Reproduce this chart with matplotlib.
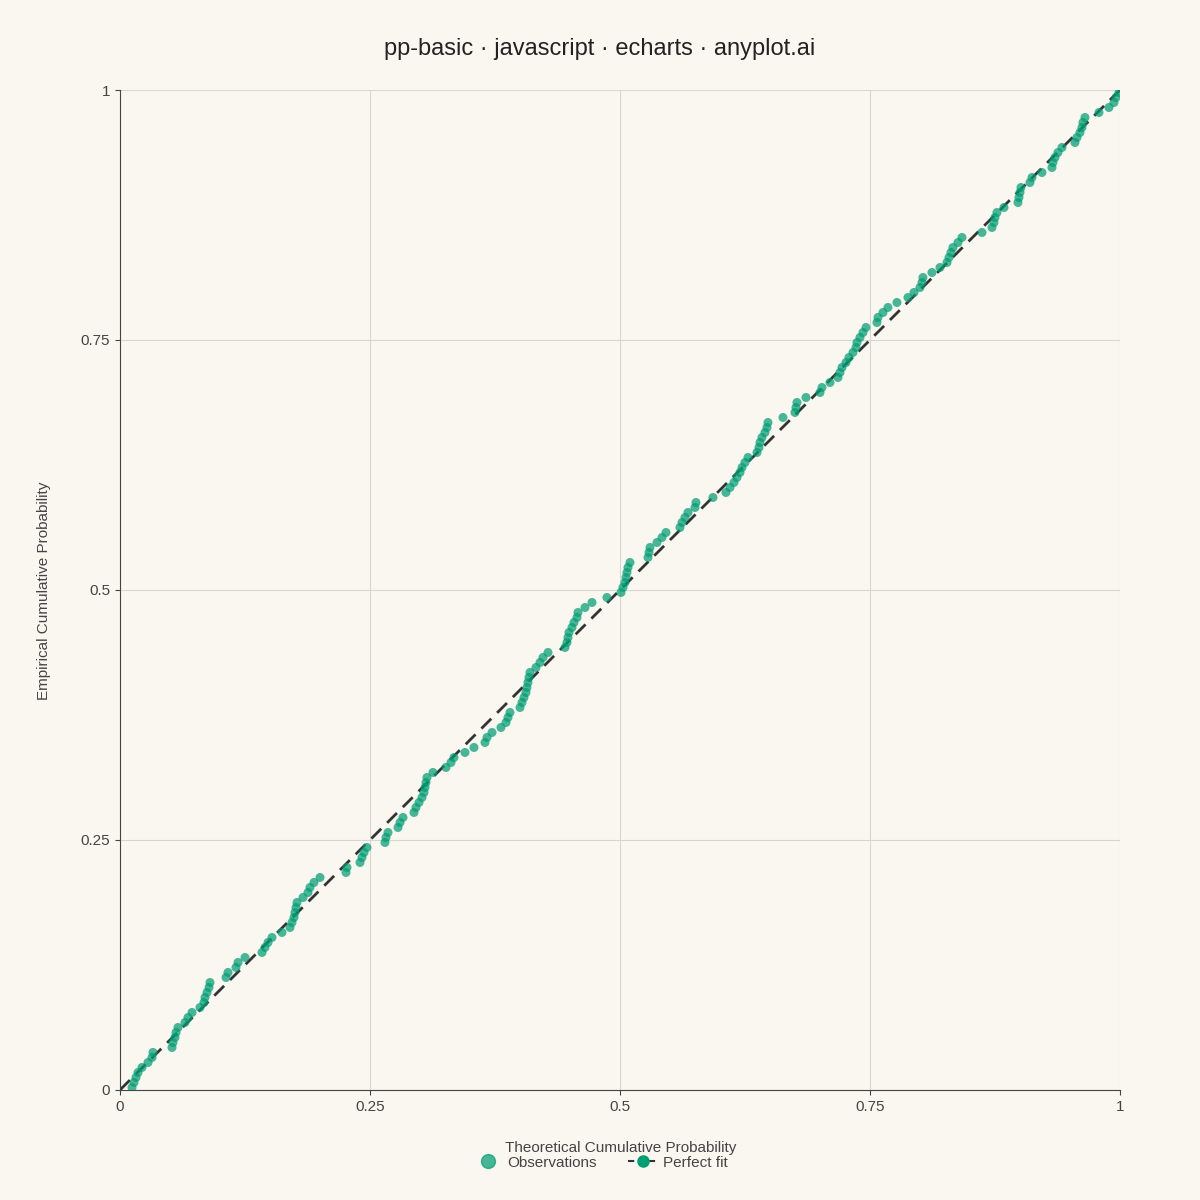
import numpy as np
import matplotlib
matplotlib.use("Agg")
import matplotlib.pyplot as plt
from matplotlib.lines import Line2D

plt.rcParams['font.family'] = ['Liberation Sans', 'DejaVu Sans']

title = "pp-basic · javascript · echarts · anyplot.ai"
x_label = "Theoretical Cumulative Probability"
y_label = "Empirical Cumulative Probability"
ticks = [0, 0.25, 0.5, 0.75, 1]
tick_labels = ["0", "0.25", "0.5", "0.75", "1"]

theoretical = [
0.012,0.014,0.016,0.018,0.022,0.028,0.032,0.033,0.052,0.053,0.055,0.056,0.058,0.065,0.068,0.072,0.08,0.084,0.085,0.087,
0.089,0.09,0.106,0.108,0.116,0.118,0.125,0.142,0.145,0.148,0.152,0.162,0.17,0.172,0.174,0.175,0.176,0.177,0.183,0.188,
0.19,0.194,0.2,0.226,0.227,0.24,0.242,0.244,0.247,0.265,0.266,0.268,0.278,0.28,0.283,0.294,0.296,0.299,0.302,0.304,
0.305,0.306,0.307,0.313,0.326,0.331,0.334,0.345,0.354,0.365,0.367,0.372,0.381,0.386,0.388,0.39,0.4,0.402,0.404,0.406,
0.407,0.408,0.409,0.41,0.416,0.42,0.423,0.428,0.445,0.447,0.448,0.449,0.452,0.454,0.457,0.458,0.465,0.472,0.487,0.501,
0.503,0.505,0.506,0.507,0.508,0.51,0.528,0.529,0.53,0.537,0.542,0.546,0.56,0.562,0.565,0.568,0.575,0.576,0.593,0.606,
0.61,0.614,0.617,0.62,0.622,0.625,0.628,0.637,0.639,0.64,0.642,0.645,0.647,0.648,0.663,0.675,0.676,0.677,0.686,0.7,
0.702,0.71,0.718,0.72,0.722,0.726,0.729,0.733,0.736,0.737,0.74,0.743,0.746,0.757,0.758,0.763,0.768,0.777,0.788,0.794,
0.8,0.802,0.803,0.812,0.82,0.827,0.829,0.831,0.833,0.838,0.842,0.862,0.872,0.874,0.875,0.877,0.884,0.898,0.899,0.9,
0.901,0.91,0.912,0.922,0.932,0.933,0.935,0.938,0.942,0.955,0.957,0.96,0.962,0.963,0.965,0.979,0.989,0.994,0.996,0.999]

x = np.sort(np.array(theoretical))
n = len(x)
y = (np.arange(n) + 0.5) / n

bg = "#FAF7F0"
green = "#009E73"
fig = plt.figure(figsize=(12, 12), dpi=100, facecolor=bg)
ax = fig.add_axes([0.1, 0.0917, 0.8333, 0.8333], facecolor=bg)
ax.scatter(x, y, s=42, color=green, alpha=0.72, edgecolors="none", zorder=3)
ax.plot([0, 1], [0, 1], color="#333333", lw=2, ls=(0, (5, 3)), zorder=2)
ax.set_xlim(0, 1); ax.set_ylim(0, 1)
ax.set_xticks(ticks); ax.set_xticklabels(tick_labels)
ax.set_yticks(ticks); ax.set_yticklabels(tick_labels)
ax.grid(True, color="#d8d6d0", lw=0.8)
for s in ["top", "right"]:
    ax.spines[s].set_visible(False)
for s in ["left", "bottom"]:
    ax.spines[s].set_color("#444444")
ax.tick_params(colors="#444444", labelsize=11)
fig.text(0.5175, 0.043, x_label, ha="center", va="center", fontsize=11, color="#444444")
fig.text(0.037, 0.508, y_label, ha="center", va="center", rotation=90, fontsize=11, color="#444444")
fig.suptitle(title, y=0.968, fontsize=17, color="#222222")
h = [Line2D([], [], ls="none", marker="o", ms=10, color=green, alpha=0.72),
     Line2D([], [], color="#333333", ls=(0, (3, 2)), lw=1.5, marker="o", ms=8, markerfacecolor=green, markeredgecolor=green)]
fig.legend(h, ["Observations", "Perfect fit"], loc="center", bbox_to_anchor=(0.5, 0.031), ncol=2,
           frameon=False, fontsize=11, labelcolor="#444444", handletextpad=0.3, columnspacing=2)
fig.savefig("out.png", facecolor=bg)
